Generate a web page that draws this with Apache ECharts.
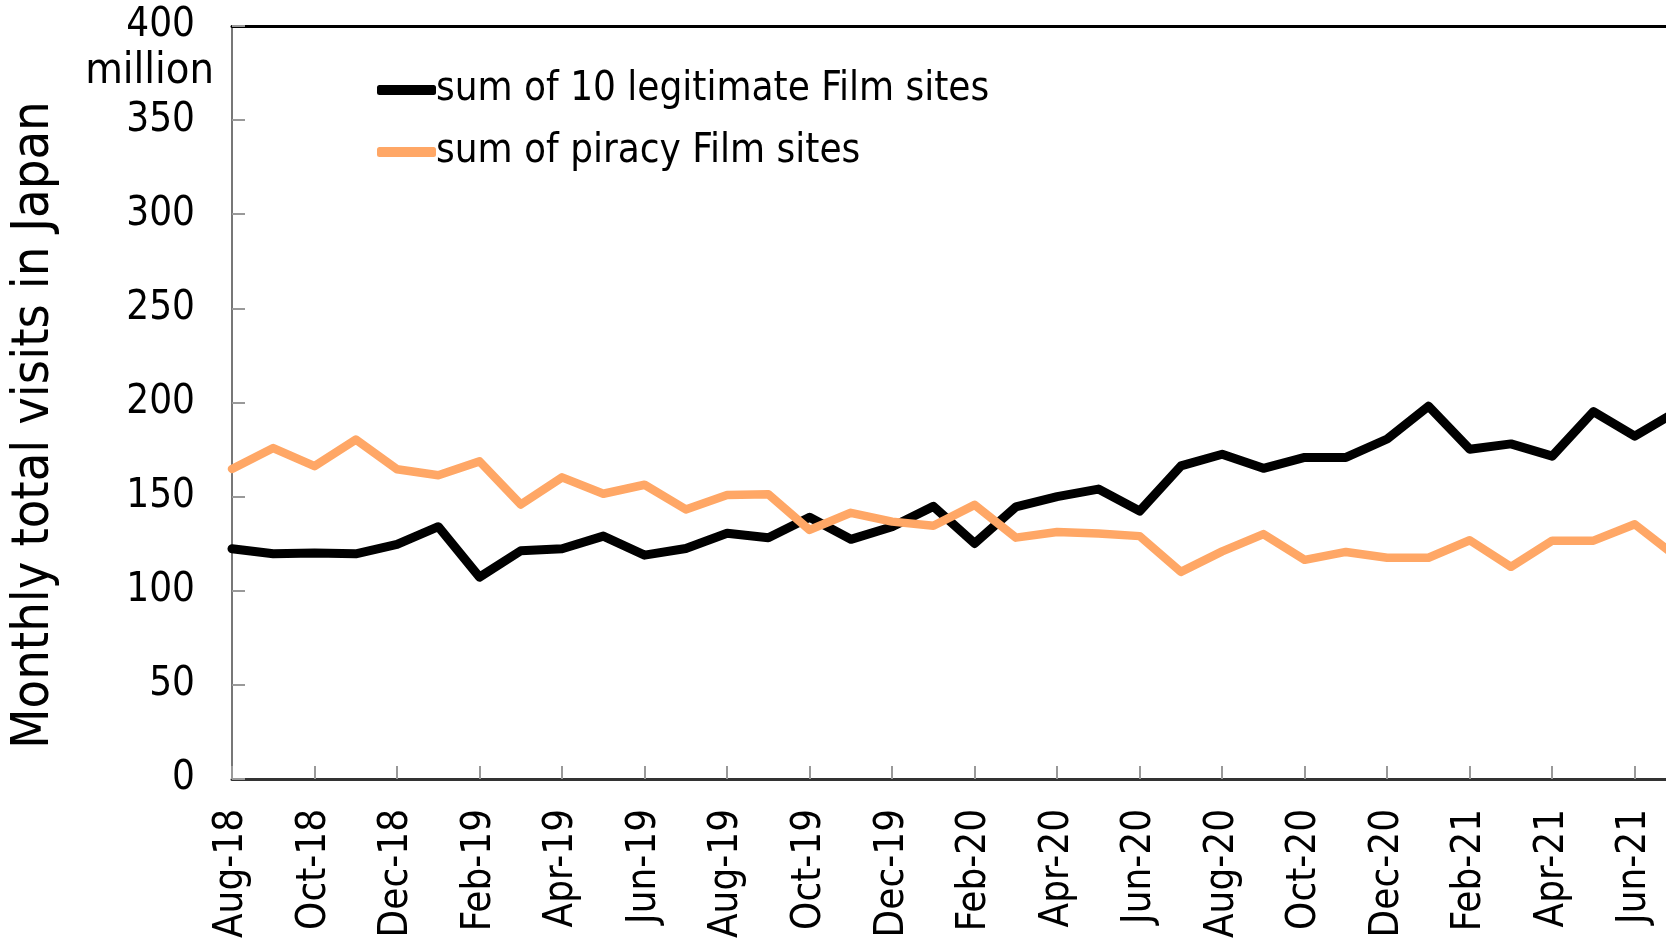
<!DOCTYPE html>
<html>
<head>
<meta charset="utf-8">
<script src="https://cdn.jsdelivr.net/npm/echarts@6/dist/echarts.min.js"></script>
<style>
  html, body { margin: 0; padding: 0; background: #fff; overflow: hidden; }
  #chart { width: 1700px; height: 941px; }
</style>
</head>
<body>
<div id="chart"></div>
<script>
  // monthly categories, Aug-18 .. Jul-21
  var months = ['Aug-18','Sep-18','Oct-18','Nov-18','Dec-18','Jan-19','Feb-19','Mar-19','Apr-19','May-19','Jun-19','Jul-19',
    'Aug-19','Sep-19','Oct-19','Nov-19','Dec-19','Jan-20','Feb-20','Mar-20','Apr-20','May-20','Jun-20','Jul-20',
    'Aug-20','Sep-20','Oct-20','Nov-20','Dec-20','Jan-21','Feb-21','Mar-21','Apr-21','May-21','Jun-21','Jul-21'];

  var legitName = 'sum of 10 legitimate Film sites';
  var piracyName = 'sum of piracy Film sites';

  // million visits
  var legitVisits = [122.3, 119.6, 120.1, 119.6, 124.6, 134, 107.2, 121.2, 122.3, 129, 118.9, 122.4,
    130.5, 128.1, 139, 127.3, 134, 144.8, 125.1, 144.5, 150, 154, 142.3, 166.3,
    172.5, 165, 170.8, 170.8, 180.6, 198, 175.2, 178, 171.5, 195.2, 182.1, 195];
  var piracyVisits = [164.7, 175.8, 166.2, 180.3, 164.5, 161.3, 168.7, 145.8, 160.2, 151.5, 156.3, 143.2,
    150.8, 151.2, 132.3, 141.4, 136.7, 134.5, 145.6, 128.2, 131.2, 130.4, 129, 110,
    120.9, 130.1, 116.4, 120.6, 117.5, 117.5, 126.8, 112.7, 126.6, 126.6, 135.3, 118.2];

  var yMin = 0, yMax = 400, yStep = 50;

  var font = '"DejaVu Sans Condensed", "DejaVu Sans", sans-serif';

  var chart = echarts.init(document.getElementById('chart'));
  chart.setOption({
    animation: false,
    color: ['#000000', '#ffa766'],
    grid: { left: 232, right: 24, top: 26, bottom: 159 },
    legend: {
      orient: 'vertical',
      left: 372,
      top: 65,
      itemWidth: 59,
      itemHeight: 10,
      itemGap: 22,
      icon: 'roundRect',
      textStyle: { fontFamily: font, fontSize: 40, lineHeight: 40, color: '#000', padding: [0, 0, 0, -5] },
      data: [legitName, piracyName]
    },
    graphic: [
      {
        type: 'text',
        x: 214, y: 72,
        style: { text: 'million', fontFamily: font, fontSize: 43, fill: '#000', align: 'right', verticalAlign: 'middle' }
      },
      {
        type: 'text',
        x: 34, y: 425,
        rotation: Math.PI / 2,
        style: { text: 'Monthly total visits in Japan', fontFamily: font, fontSize: 52, fill: '#000', align: 'center', verticalAlign: 'middle' }
      }
    ],
    xAxis: [
      {
        type: 'category',
        data: months,
        boundaryGap: false,
        axisLine: { lineStyle: { color: '#333', width: 3 } },
        axisTick: { inside: true, length: 13, interval: 1, lineStyle: { color: '#999', width: 2 } },
        axisLabel: { interval: 1, rotate: 90, margin: 30, fontFamily: font, fontSize: 40, color: '#000' },
        splitLine: { show: false }
      },
      {
        type: 'category',
        data: months,
        position: 'top',
        boundaryGap: false,
        axisLine: { lineStyle: { color: '#000', width: 3 } },
        axisTick: { show: false },
        axisLabel: { show: false }
      }
    ],
    yAxis: {
      type: 'value',
      min: yMin,
      max: yMax,
      interval: yStep,
      axisLine: { show: true, lineStyle: { color: '#777', width: 2 } },
      axisTick: { show: true, inside: true, length: 13, lineStyle: { color: '#999', width: 2 } },
      axisLabel: { margin: 37, fontFamily: font, fontSize: 40, color: '#000' },
      splitLine: { show: false }
    },
    series: [
      {
        name: legitName,
        type: 'line',
        data: legitVisits,
        symbol: 'none',
        lineStyle: { width: 9, color: '#000', join: 'round', cap: 'round' }
      },
      {
        name: piracyName,
        type: 'line',
        data: piracyVisits,
        symbol: 'none',
        lineStyle: { width: 8.5, color: '#ffa766', join: 'round', cap: 'round' }
      }
    ]
  });
</script>
</body>
</html>
